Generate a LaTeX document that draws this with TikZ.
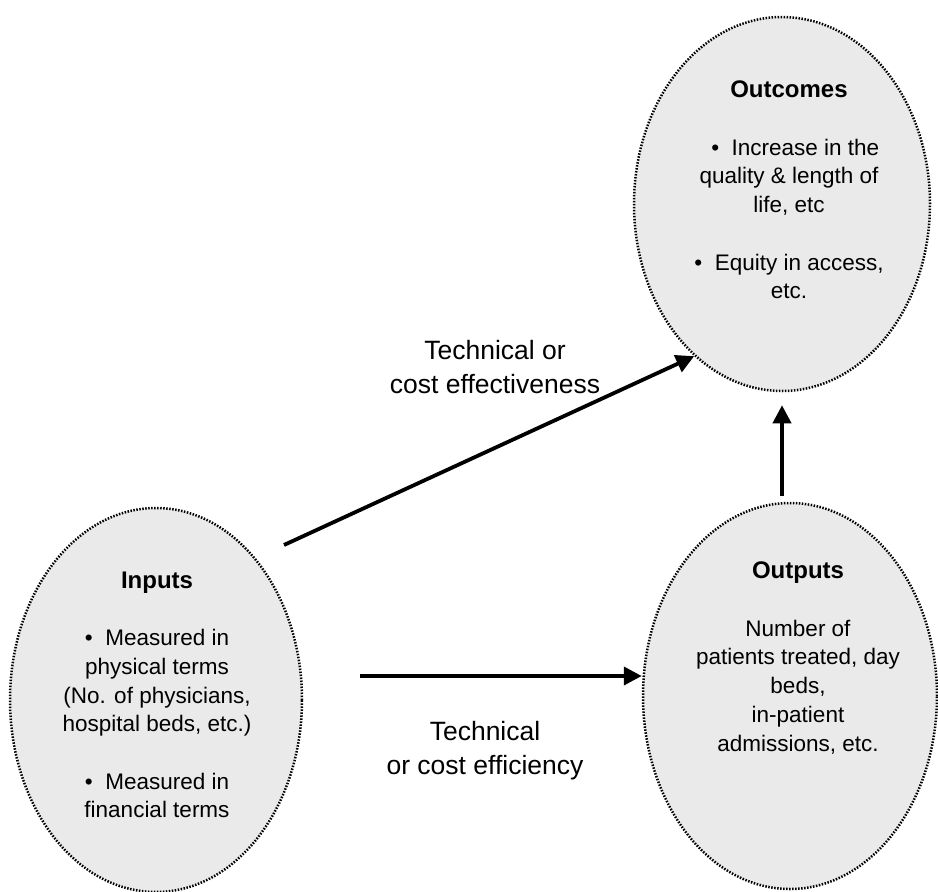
\documentclass[tikz,border=0pt]{standalone}
\usepackage{fontspec}
\setmainfont{Liberation Sans}
\usepackage{tikz}
\usetikzlibrary{shapes.geometric,arrows.meta}
\definecolor{BubbleFill}{RGB}{234,234,234}
\newcommand{\bubhead}[1]{{\fontsize{24}{28.7}\selectfont\bfseries #1}}

\begin{document}
\begin{tikzpicture}[x=1pt,y=-1pt,
   bubble/.style={ellipse,draw=black,fill=BubbleFill,line width=2.5pt,
      dash pattern=on 1.5pt off 1.5pt,inner sep=0pt},
   bubtxt/.style={align=center,font=\fontsize{22.5}{28.7}\selectfont},
   lbl/.style={align=center,font=\fontsize{26.5}{34}\selectfont},
   arr/.style={line width=3.8pt,-{Triangle[length=18pt,width=18pt]}}]
\useasboundingbox (0,0) rectangle (938,892);
% the three bubbles
\node[bubble,minimum width=292pt,minimum height=384pt] (inputs) at (156,700) {};
\node[bubble,minimum width=294pt,minimum height=386pt] (outputs) at (790,696) {};
\node[bubble,minimum width=296pt,minimum height=374pt] (outcomes) at (782,204) {};
% texts
\node[bubtxt] (inputstxt) at (157,695) {\bubhead{Inputs}\\[28.7pt]
   \textbullet\ \ Measured in\\physical terms\\(No. of physicians,\\hospital beds, etc.)\\[28.7pt]
   \textbullet\ \ Measured in\\financial terms};
\node[bubtxt] (outputstxt) at (798,658) {\bubhead{Outputs}\\[28.7pt]
   Number of\\patients treated, day\\beds,\\in-patient\\admissions, etc.};
\node[bubtxt] (outcomestxt) at (789,190) {\bubhead{Outcomes}\\[28.7pt]
   \ \ \textbullet\ \ Increase in the\\quality \& length of\\life, etc\\[28.7pt]
   \textbullet\ \ Equity in access,\\etc.};
% connectors
\coordinate (effstart) at (284,545);
\draw[arr] (effstart) -- (outcomes.240);
\draw[arr,shorten <=57pt] ([yshift=24pt]inputs.east) -- ([yshift=24pt]inputs.east -| outputs.west);
\draw[arr,shorten <=6pt,shorten >=13pt] (outcomes.south |- outputs.north) -- (outcomes.south);
\node[lbl] (efflbl) at (495,367) {Technical or\\cost effectiveness};
\node[lbl] (efclbl) at (485,751) {Technical\\or cost efficiency};
\end{tikzpicture}
\end{document}
